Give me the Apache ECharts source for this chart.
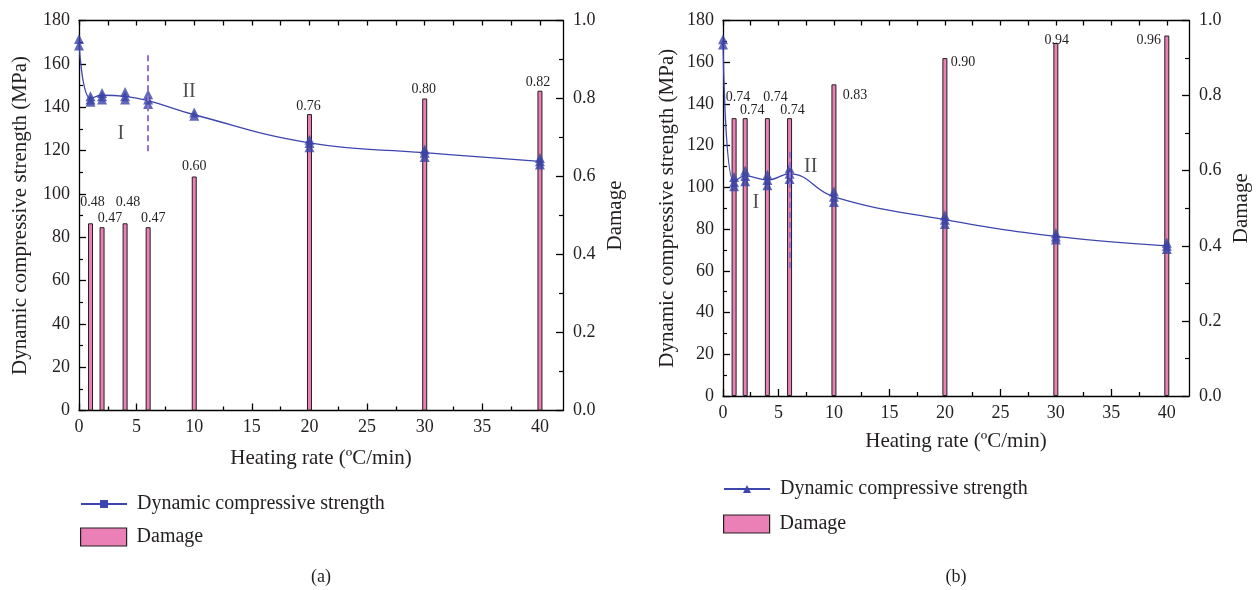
<!DOCTYPE html>
<html>
<head>
<meta charset="utf-8">
<script src="https://cdn.jsdelivr.net/npm/echarts@6/dist/echarts.min.js"></script>
<style>
  html, body { margin: 0; padding: 0; background: #fff; }
  #wrap { position: relative; width: 1259px; height: 590px; }
  #chartA { position: absolute; left: 0; top: 0; width: 640px; height: 590px; }
  #chartB { position: absolute; left: 640px; top: 0; width: 619px; height: 590px; }
</style>
</head>
<body>
<div id="wrap"><div id="chartA"></div><div id="chartB"></div></div>
<script>
// Heating rates (°C/min) of the damage bars and of the strength curve
const heatingRates = [1, 2, 4, 6, 10, 20, 30, 40];
const strengthRates = [0, 1, 2, 4, 6, 10, 20, 30, 40];

// Panel (a)
const damageA = [0.48, 0.47, 0.48, 0.47, 0.60, 0.76, 0.80, 0.82];
const strengthMeanA = [170, 144, 145.5, 145, 143, 136.5, 123.5, 119, 115];
const specimenA = [
  [171.5, 168.5], [145, 143.5, 142.5], [146.5, 145, 143.5], [147, 145, 143.5],
  [146, 143.5, 141.5], [137.5, 136], [125, 123.5, 121.5], [120.5, 119, 117], [116.5, 115, 113.5]
];
const stageSplitA = [6, 164, 118.7];           // rate, top, bottom (MPa)
const stageNamesA = ['I', 'II'];
const stagePosA = [[3.64, 127.6], [9.55, 147.1]];

// Panel (b)
const damageB = [0.74, 0.74, 0.74, 0.74, 0.83, 0.90, 0.94, 0.96];
const strengthMeanB = [170, 102.5, 105.5, 103.5, 106.5, 95.5, 84.5, 76.5, 72];
const specimenB = [
  [171, 168.5], [105, 102.5, 100.5], [108, 105.5, 103], [106, 103.5, 101],
  [109, 106.5, 104], [98, 95.5, 93], [86.5, 84.5, 82.5], [78, 76.5, 75], [73.5, 72, 70.5]
];
const stageSplitB = [6, 117, 60];
const stageNamesB = ['I', 'II'];
const stagePosB = [[2.96, 92.4], [7.9, 109.9]];

// Tick values
const xMajorTicks = [0, 5, 10, 15, 20, 25, 30, 35, 40];
const xMinorTicks = [2.5, 7.5, 12.5, 17.5, 22.5, 27.5, 32.5, 37.5];

const FONT = '"Liberation Serif", "Times New Roman", serif';
const INK = '#231f20';
const LINE_BLUE = '#3c46ad';
const PINK = '#ea80b6';
const AXIS_LINE = { color: '#000', width: 1.3 };

function makeOption(p) {
  const xTopTicks = xMajorTicks.concat(xMinorTicks).sort((a, b) => a - b);
  const tickText = { fontSize: 18, fontFamily: FONT, color: INK };
  const nameText = { fontSize: 21, fontFamily: FONT, color: INK };

  const barData = heatingRates.map((x, i) => ({
    value: [x, p.damage[i]],
    label: { offset: p.labelShift[i] }
  }));
  const meanData = strengthRates.map((x, i) => [x, p.mean[i]]);
  const specimenData = [];
  strengthRates.forEach((x, i) => p.specimens[i].forEach(v => specimenData.push([x, v])));
  const stageData = p.stageNames.map((n, i) => ({ name: n, value: p.stagePos[i] }));

  return {
    animation: false,
    backgroundColor: '#fff',
    grid: Object.assign({ outerBoundsMode: 'none', containLabel: false }, p.grid),
    xAxis: [
      {
        type: 'value', min: 0, max: 42, position: 'bottom',
        axisLine: { show: true, onZero: false, lineStyle: AXIS_LINE },
        axisTick: { show: true, inside: true, length: 7, customValues: xMajorTicks, lineStyle: AXIS_LINE },
        axisLabel: Object.assign({ customValues: xMajorTicks, margin: 8 }, tickText),
        splitLine: { show: false },
        name: 'Heating rate (ºC/min)', nameLocation: 'middle', nameGap: p.xNameGap,
        nameTextStyle: nameText, nameMoveOverlap: false
      },
      {
        type: 'value', min: 0, max: 42, position: 'bottom',
        axisLine: { show: false },
        axisTick: { show: true, inside: true, length: 4, customValues: xMinorTicks, lineStyle: AXIS_LINE },
        axisLabel: { show: false },
        splitLine: { show: false }
      },
      {
        type: 'value', min: 0, max: 42, position: 'top',
        axisLine: { show: true, onZero: false, lineStyle: AXIS_LINE },
        axisTick: { show: true, inside: true, length: 5, customValues: xTopTicks, lineStyle: AXIS_LINE },
        axisLabel: { show: false },
        splitLine: { show: false }
      }
    ],
    yAxis: [
      {
        type: 'value', min: 0, max: 180, interval: 20, position: 'left',
        axisLine: { show: true, onZero: false, lineStyle: AXIS_LINE },
        axisTick: { show: true, inside: true, length: 7, lineStyle: AXIS_LINE },
        minorTick: { show: true, splitNumber: 2, length: 4, lineStyle: { color: '#000', width: 1.2 } },
        axisLabel: Object.assign({ margin: 9 }, tickText),
        splitLine: { show: false },
        name: 'Dynamic compressive strength (MPa)', nameLocation: 'middle', nameRotate: 90,
        nameGap: p.yNameGap, nameTextStyle: nameText, nameMoveOverlap: false
      },
      {
        type: 'value', min: 0, max: 1, interval: 0.2, position: 'right',
        axisLine: { show: true, onZero: false, lineStyle: AXIS_LINE },
        axisTick: { show: true, inside: true, length: 7, lineStyle: AXIS_LINE },
        minorTick: { show: true, splitNumber: 2, length: 4, lineStyle: { color: '#000', width: 1.2 } },
        axisLabel: Object.assign({ margin: 10, formatter: v => v.toFixed(1) }, tickText),
        splitLine: { show: false },
        name: 'Damage', nameLocation: 'middle', nameRotate: 90,
        nameGap: p.y2NameGap, nameTextStyle: nameText, nameMoveOverlap: false
      }
    ],
    legend: [
      {
        data: ['Dynamic compressive strength'], left: p.legendLeft, top: p.legendTop[0],
        padding: 0, itemWidth: p.legendWidth, itemHeight: 10, selectedMode: false,
        formatter: n => ' ' + n,
        textStyle: { fontSize: 20, fontFamily: FONT, color: INK }
      },
      {
        data: [{ name: 'Damage', icon: 'rect' }], left: p.legendLeft, top: p.legendTop[1],
        padding: 0, itemWidth: p.legendWidth, itemHeight: 18, selectedMode: false,
        formatter: n => ' ' + n,
        itemStyle: { borderColor: INK, borderWidth: 1.2 },
        textStyle: { fontSize: 20, fontFamily: FONT, color: INK }
      }
    ],
    graphic: [{
      type: 'text', x: p.captionX, y: 577, silent: true,
      style: { text: p.caption, fontSize: 18, fontFamily: FONT, fill: INK, align: 'center', verticalAlign: 'middle' }
    }],
    series: [
      {
        type: 'bar', name: 'Damage', xAxisIndex: 0, yAxisIndex: 1, barWidth: 5, z: 2,
        data: barData,
        itemStyle: { color: PINK, borderColor: INK, borderWidth: 1 },
        label: {
          show: true, position: 'top', distance: 2, fontSize: 14, fontFamily: FONT, color: INK,
          formatter: d => d.value[1].toFixed(2)
        }
      },
      {
        type: 'line', name: 'Dynamic compressive strength', xAxisIndex: 0, yAxisIndex: 0, z: 3,
        data: meanData, smooth: 0.45, symbol: p.legendSymbol, showSymbol: false,
        lineStyle: { color: LINE_BLUE, width: 1.3 },
        itemStyle: { color: LINE_BLUE },
        markLine: {
          silent: true, symbol: 'none', label: { show: false },
          lineStyle: { type: [6, 4], color: '#9b6dd6', width: 2 },
          data: [[{ coord: [p.stageSplit[0], p.stageSplit[1]] }, { coord: [p.stageSplit[0], p.stageSplit[2]] }]]
        }
      },
      {
        type: 'scatter', name: 'specimens', xAxisIndex: 0, yAxisIndex: 0, z: 4,
        symbol: 'triangle', symbolSize: 10, data: specimenData,
        itemStyle: { color: '#3a43a6' }
      },
      {
        type: 'scatter', name: 'stages', xAxisIndex: 0, yAxisIndex: 0, z: 5, silent: true,
        symbolSize: 0, data: stageData,
        label: { show: true, position: 'inside', formatter: '{b}', fontSize: 20, fontFamily: FONT, color: INK }
      }
    ]
  };
}

const chartA = echarts.init(document.getElementById('chartA'), null, { renderer: 'canvas' });
chartA.setOption(makeOption({
  damage: damageA, mean: strengthMeanA, specimens: specimenA,
  stageSplit: stageSplitA, stageNames: stageNamesA, stagePos: stagePosA,
  labelShift: [[2, -12], [8, 0], [3, -12], [5, 0], [0, -1], [-1, 1], [-1, 0], [-2, 1]],
  grid: { left: 79, right: 77, top: 20.5, bottom: 179.5 },
  xNameGap: 37, yNameGap: 48, y2NameGap: 42,
  legendLeft: 80, legendTop: [494, 527], legendWidth: 46, legendSymbol: 'rect',
  caption: '(a)', captionX: 321
}));

const chartB = echarts.init(document.getElementById('chartB'), null, { renderer: 'canvas' });
chartB.setOption(makeOption({
  damage: damageB, mean: strengthMeanB, specimens: specimenB,
  stageSplit: stageSplitB, stageNames: stageNamesB, stagePos: stagePosB,
  labelShift: [[4, -12], [7, 1], [8, -12], [3, 1], [21, 20], [18, 13.5], [1, 6], [-18, 13.5]],
  grid: { left: 83, right: 70, top: 20.5, bottom: 194 },
  xNameGap: 35, yNameGap: 45, y2NameGap: 42,
  legendLeft: 83, legendTop: [479, 514], legendWidth: 46, legendSymbol: 'triangle',
  caption: '(b)', captionX: 316
}));
</script>
</body>
</html>
